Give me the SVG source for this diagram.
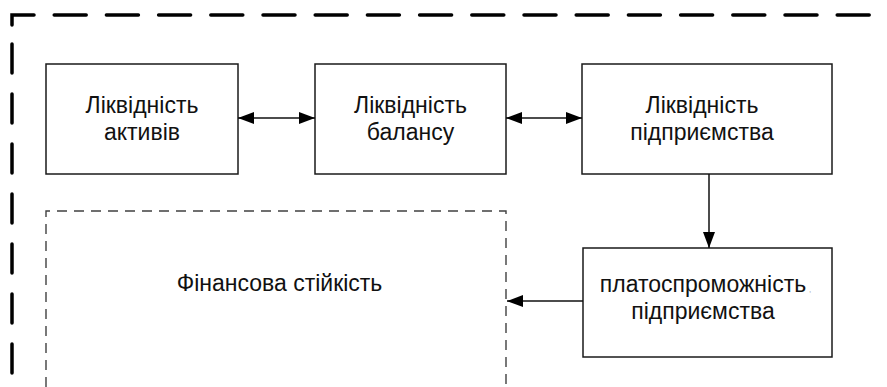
<svg xmlns="http://www.w3.org/2000/svg" width="887" height="387" viewBox="0 0 887 387">
  <style>
    .box { fill: #ffffff; stroke: #1a1a1a; stroke-width: 1.5; }
    .lbl { font-family: "Liberation Sans", Arial, sans-serif; font-size: 23px; fill: #111111; text-anchor: middle; }
    .wire { fill: none; stroke: #111111; stroke-width: 1.5; }
    .outer { fill: none; stroke: #000000; stroke-width: 3.5; stroke-linecap: round; }
    .inner { fill: none; stroke: #404040; stroke-width: 1.4; stroke-dasharray: 10 7; }
  </style>
  <defs>
    <marker id="head" viewBox="0 0 16 12" refX="16" refY="6" markerWidth="16" markerHeight="12" markerUnits="userSpaceOnUse" orient="auto-start-reverse">
      <path d="M0,0 L16,6 L0,12 Z" fill="#000000"/>
    </marker>
  </defs>

  <!-- outer dashed frame (top and left edges) -->
  <path class="outer" d="M12,25 V15 H887" stroke-dasharray="32 20.2"/>
  <path class="outer" d="M12,44 V387" stroke-dasharray="29 21"/>

  <!-- financial stability region -->
  <g id="financial-stability">
    <path class="inner" d="M46,387 V211 H506 V387"/>
    <text class="lbl" x="279.5" y="291">Фінансова стійкість</text>
  </g>

  <g id="asset-liquidity">
    <rect class="box" x="46" y="64" width="192" height="110"/>
    <text class="lbl" x="142" y="113">Ліквідність</text>
    <text class="lbl" x="142" y="140">активів</text>
  </g>

  <g id="balance-liquidity">
    <rect class="box" x="315" y="64" width="191" height="110"/>
    <text class="lbl" x="410.5" y="113">Ліквідність</text>
    <text class="lbl" x="410.5" y="140">балансу</text>
  </g>

  <g id="enterprise-liquidity">
    <rect class="box" x="582" y="64" width="250" height="110"/>
    <text class="lbl" x="702" y="113">Ліквідність</text>
    <text class="lbl" x="702" y="140">підприємства</text>
  </g>

  <g id="solvency">
    <rect class="box" x="583" y="248" width="249" height="109"/>
    <text class="lbl" x="703" y="292">платоспроможність</text>
    <text x="809" y="292" font-family="Liberation Sans, Arial, sans-serif" font-size="8" fill="#999999">,</text>
    <text class="lbl" x="703" y="319">підприємства</text>
  </g>

  <!-- connectors -->
  <g id="connectors">
    <line class="wire" x1="238" y1="118" x2="315" y2="118" marker-start="url(#head)" marker-end="url(#head)"/>
    <line class="wire" x1="506" y1="118" x2="582" y2="118" marker-start="url(#head)" marker-end="url(#head)"/>
    <line class="wire" x1="709" y1="174" x2="709" y2="248" marker-end="url(#head)"/>
    <line class="wire" x1="583" y1="301" x2="507" y2="301" marker-end="url(#head)"/>
  </g>
</svg>
